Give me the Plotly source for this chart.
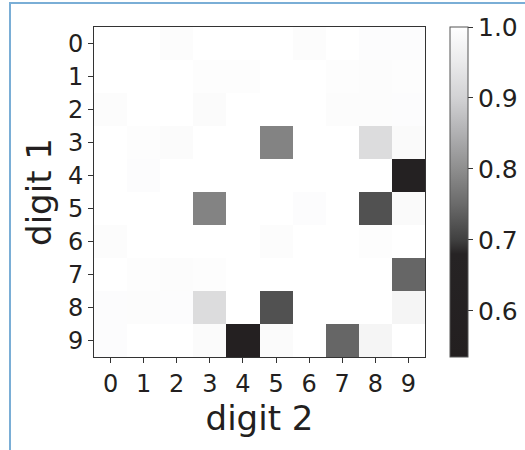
import plotly.graph_objects as go

digits = [str(i) for i in range(10)]
x_labels = digits          # digit 2
y_labels = digits          # digit 1

# rows = digit 1 (0..9), columns = digit 2 (0..9)
row0 = [1.000, 1.000, 0.992, 1.000, 1.000, 1.000, 0.992, 1.000, 0.994, 0.994]
row1 = [1.000, 1.000, 1.000, 0.996, 0.996, 1.000, 1.000, 0.996, 0.992, 0.996]
row2 = [0.992, 1.000, 1.000, 0.990, 1.000, 1.000, 1.000, 0.992, 0.992, 0.994]
row3 = [1.000, 0.996, 0.990, 1.000, 1.000, 0.785, 1.000, 1.000, 0.920, 0.988]
row4 = [1.000, 0.994, 1.000, 1.000, 1.000, 1.000, 1.000, 1.000, 1.000, 0.600]
row5 = [1.000, 1.000, 1.000, 0.785, 1.000, 1.000, 0.994, 1.000, 0.720, 0.988]
row6 = [0.992, 1.000, 1.000, 1.000, 1.000, 0.992, 1.000, 1.000, 0.996, 1.000]
row7 = [1.000, 0.996, 0.992, 0.996, 1.000, 1.000, 1.000, 1.000, 1.000, 0.745]
row8 = [0.994, 0.992, 0.994, 0.920, 1.000, 0.720, 1.000, 1.000, 1.000, 0.975]
row9 = [0.994, 1.000, 1.000, 0.990, 0.580, 0.990, 1.000, 0.745, 0.975, 1.000]
z_values = [row0, row1, row2, row3, row4, row5, row6, row7, row8, row9]

z_min, z_max = 0.535, 1.0
cbar_ticks = [0.6, 0.7, 0.8, 0.9, 1.0]

# colour stops in value space
stop_vals = [0.535, 0.68, 0.70, 0.75, 0.80, 0.85, 0.90, 0.95, 1.0]
stop_cols = ["#231f20", "#262324", "#404040", "#6a6a6a", "#8e8e8e",
             "#b0b0b2", "#d2d2d4", "#eaeaeb", "#ffffff"]
colorscale = [[(v - z_min) / (z_max - z_min), c] for v, c in zip(stop_vals, stop_cols)]

FONT = "DejaVu Sans"
TXT = "#231f20"

L, T, W, H = 94, 27, 331, 330   # plot area in page pixels

fig = go.Figure(go.Heatmap(
    z=z_values, x=x_labels, y=y_labels,
    zmin=z_min, zmax=z_max, colorscale=colorscale,
    colorbar=dict(
        x=(450 - L) / W, xanchor="left", xpad=0,
        y=0.5, yanchor="middle", ypad=0,
        len=1.0, lenmode="fraction",
        thickness=18, thicknessmode="pixels",
        outlinewidth=1, outlinecolor="#555555",
        tickvals=cbar_ticks, ticktext=[f"{t:.1f}" for t in cbar_ticks],
        ticks="outside", ticklen=5, tickcolor="#333333",
        tickfont=dict(family=FONT, size=25, color=TXT),
    ),
))

fig.update_xaxes(
    type="category", side="bottom",
    showline=True, mirror=True, linecolor="#333333", linewidth=1,
    ticks="outside", ticklen=5, tickcolor="#333333",
    tickfont=dict(family=FONT, size=24, color=TXT),
    title=dict(text="digit 2", font=dict(family=FONT, size=34, color=TXT), standoff=1),
    showgrid=False, zeroline=False,
)
fig.update_yaxes(
    type="category", autorange="reversed",
    showline=True, mirror=True, linecolor="#333333", linewidth=1,
    ticks="outside", ticklen=5, tickcolor="#333333",
    tickfont=dict(family=FONT, size=24, color=TXT),
    title=dict(text="digit 1", font=dict(family=FONT, size=34, color=TXT), standoff=6),
    showgrid=False, zeroline=False,
)

# light blue frame (top and left edge of the surrounding box)
frame_col = "#7aaed6"
fx0 = (10 - L) / W
fx1 = (540 - L) / W
fy1 = (T + H - 3) / H
fy0 = (T + H - 470) / H
fig.add_shape(type="rect", xref="paper", yref="paper", layer="above",
              x0=fx0, x1=fx1, y0=fy0, y1=fy1,
              fillcolor="rgba(0,0,0,0)",
              line=dict(color=frame_col, width=2))

fig.update_layout(
    width=525, height=450,
    margin=dict(l=L, r=525 - L - W, t=T, b=450 - T - H, pad=0, autoexpand=False),
    paper_bgcolor="white", plot_bgcolor="white",
    font=dict(family=FONT, color=TXT),
)

fig.write_html("out.html", config={"displayModeBar": False},
               post_script="document.body.style.margin='0';")
